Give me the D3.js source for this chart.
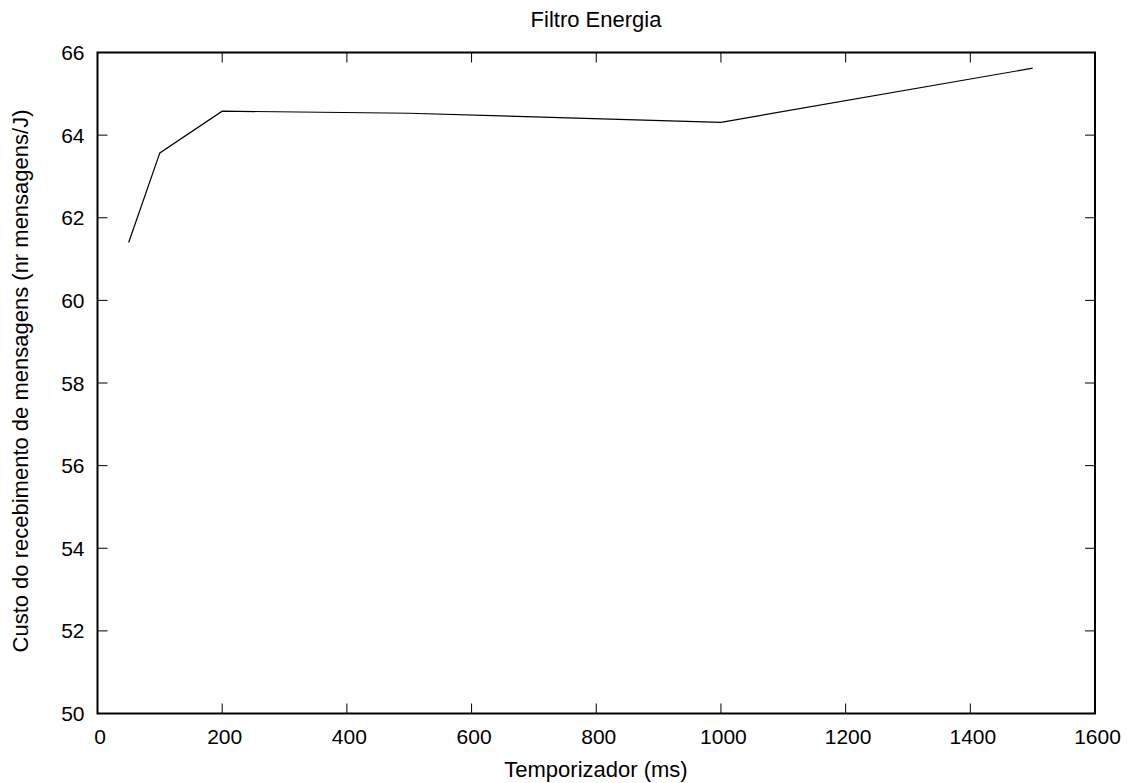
<!DOCTYPE html>
<html><head><meta charset="utf-8">
<script src="https://cdn.jsdelivr.net/npm/d3@7"></script>
<style>body{margin:0;background:#fff}svg{display:block}text{font-family:"Liberation Sans",Arial,sans-serif;fill:#000}</style>
</head><body><svg id="c" width="1127" height="783"></svg>
<script>
const xVals = [50, 100, 200, 500, 1000, 1500];
const yVals = [61.4, 63.57, 64.58, 64.53, 64.31, 65.62];
const xTicks = [0, 200, 400, 600, 800, 1000, 1200, 1400, 1600];
const yTicks = [50, 52, 54, 56, 58, 60, 62, 64, 66];
const title = "Filtro Energia";
const xLabel = "Temporizador (ms)";
const yLabel = "Custo do recebimento de mensagens (nr mensagens/J)";

const L = 97.5, R = 1095, T = 52.5, B = 713.5;
const svg = d3.select("#c");
const x = d3.scaleLinear().domain([0, 1600]).range([L, R]);
const y = d3.scaleLinear().domain([50, 66]).range([B, T]);
const tl = 10;

const g = svg.append("g");
xTicks.forEach(v => {
  if (v === 0 || v === 1600) return;
  g.append("line").attr("x1", x(v)).attr("x2", x(v)).attr("y1", B).attr("y2", B - tl).attr("stroke", "#000").attr("stroke-width", 1);
  g.append("line").attr("x1", x(v)).attr("x2", x(v)).attr("y1", T).attr("y2", T + tl).attr("stroke", "#000").attr("stroke-width", 1);
});
yTicks.forEach(v => {
  if (v === 50 || v === 66) return;
  g.append("line").attr("y1", y(v)).attr("y2", y(v)).attr("x1", L).attr("x2", L + tl).attr("stroke", "#000").attr("stroke-width", 1);
  g.append("line").attr("y1", y(v)).attr("y2", y(v)).attr("x1", R).attr("x2", R - tl).attr("stroke", "#000").attr("stroke-width", 1);
});
xTicks.forEach(v => {
  g.append("text").attr("x", x(v) + 2.5).attr("y", 744).attr("text-anchor", "middle").attr("font-size", 21).text(v);
});
yTicks.forEach(v => {
  g.append("text").attr("x", 84.5).attr("y", y(v) + 7.5).attr("text-anchor", "end").attr("font-size", 21).text(v);
});
const line = d3.line().x((d, i) => x(xVals[i])).y(d => y(d));
g.append("path").datum(yVals).attr("d", line).attr("fill", "none").attr("stroke", "#000").attr("stroke-width", 1.2);
g.append("rect").attr("x", L).attr("y", T).attr("width", R - L).attr("height", B - T).attr("fill", "none").attr("stroke", "#000").attr("stroke-width", 2);
svg.append("text").attr("x", 596).attr("y", 26.5).attr("text-anchor", "middle").attr("font-size", 22).text(title);
svg.append("text").attr("x", 596).attr("y", 777).attr("text-anchor", "middle").attr("font-size", 22).text(xLabel);
svg.append("text").attr("transform", "translate(28,381) rotate(-90)").attr("text-anchor", "middle").attr("font-size", 22).text(yLabel);
</script></body></html>
